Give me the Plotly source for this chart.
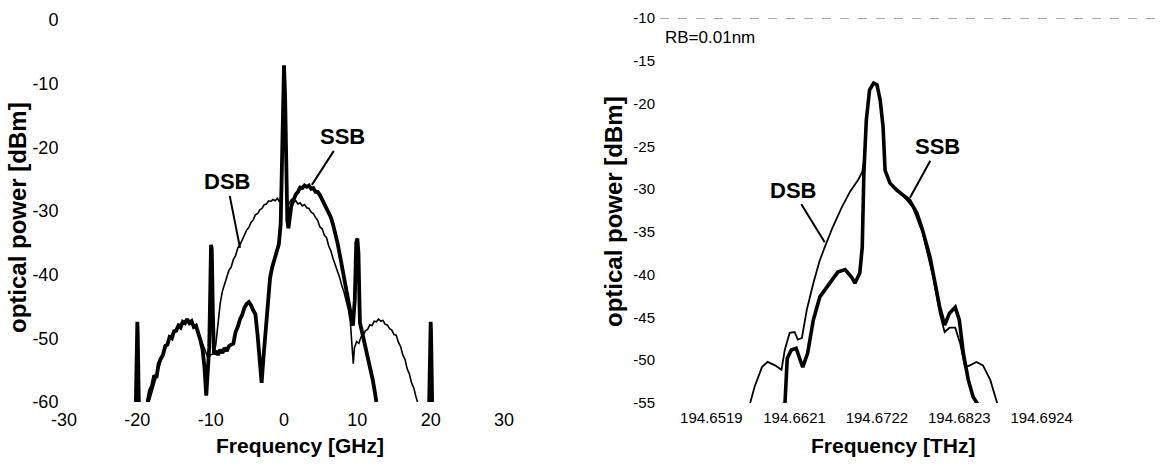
import plotly.graph_objects as go

# ---------------- Left panel: Frequency [GHz] vs optical power [dBm] ----------------
ssb_ghz = [-20.2, -20.05, -20.0, -19.95, -19.8, None,
           -18.6, -18.3, -18.0, -17.7, -17.4, -17.1, -16.8, -16.5, -16.2, -15.9, -15.6, -15.3,
           -15.0, -14.7, -14.4, -14.1, -13.8, -13.5, -13.2, -12.9, -12.6, -12.3, -12.0, -11.7,
           -11.4, -11.1, -10.85, -10.6, -10.4, -10.2, -10.05, -9.95, -9.85, -9.7, -9.55, -9.3,
           -9.0, -8.7, -8.4, -8.1, -7.8, -7.5, -7.2, -6.9, -6.6, -6.3, -6.0, -5.7, -5.4, -5.1,
           -4.8, -4.5, -4.2, -3.9, -3.6, -3.3, -3.05, -2.8, -2.5, -2.2, -1.9, -1.6, -1.3, -1.0,
           -0.7, -0.45, -0.3, -0.15, 0.0, 0.15, 0.3, 0.45, 0.6, 0.8, 1.0, 1.3, 1.6, 1.9, 2.2,
           2.5, 2.8, 3.1, 3.4, 3.7, 4.0, 4.3, 4.6, 4.9, 5.2, 5.5, 5.8, 6.1, 6.4, 6.7, 7.0, 7.3,
           7.6, 7.9, 8.2, 8.5, 8.8, 9.1, 9.4, 9.65, 9.85, 10.0, 10.15, 10.35, 10.6, 10.9, 11.2,
           11.5, 11.8, 12.1, 12.4, 12.6, None,
           19.8, 19.95, 20.0, 20.05, 20.2]
ssb_dbm = [-60, -49, -47.4, -49, -60, None,
           -60.0, -58.2, -57.5, -55.8, -56.2, -54.0, -53.2, -52.6, -51.2, -51.0, -49.8, -50.0,
           -48.9, -48.8, -48.0, -48.3, -47.4, -47.6, -47.0, -47.6, -47.3, -48.2, -48.0, -49.1,
           -50.3, -51.8, -54.5, -59.0, -54.0, -51.5, -42.0, -35.3, -36.0, -46.0, -52.5, -52.0,
           -52.6, -51.8, -52.3, -51.5, -52.0, -51.2, -51.0, -50.8, -49.0, -48.2, -47.0, -46.3,
           -45.2, -44.6, -44.3, -44.8, -45.6, -46.2, -49.5, -53.5, -57.0, -53.0, -49.0, -44.5,
           -40.5, -38.8, -37.5, -36.6, -35.2, -32.0, -24.0, -12.0, -7.1, -12.0, -24.0, -31.5,
           -32.7, -30.5, -29.2, -28.3, -27.4, -27.0, -26.3, -26.4, -26.0, -26.2, -26.0, -26.5,
           -26.4, -27.0, -27.0, -27.5, -28.2, -28.8, -29.5, -30.0, -31.0, -32.2, -33.5, -35.0,
           -36.8, -38.7, -40.5, -42.8, -45.0, -46.5, -48.0, -44.0, -35.0, -34.3, -36.5, -47.5,
           -48.8, -50.0, -51.6, -53.2, -54.8, -56.5, -58.5, -60.0, None,
           -60, -49, -47.4, -49, -60]

dsb_ghz = [-18.4, -18.0, -17.6, -17.2, -16.8, -16.4, -16.0, -15.6, -15.2, -14.8, -14.4, -14.0,
           -13.6, -13.2, -12.8, -12.4, -12.0, -11.6, -11.2, -10.8, -10.4, -10.0, -9.6, -9.3,
           -9.0, -8.7, -8.4, -8.1, -7.8, -7.5, -7.2, -6.9, -6.6, -6.3, -6.0, -5.7, -5.4, -5.1,
           -4.8, -4.5, -4.2, -3.9, -3.6, -3.3, -3.0, -2.7, -2.4, -2.1, -1.8, -1.5, -1.2, -0.9,
           -0.6, -0.4, -0.3, -0.15, 0.0, 0.15, 0.3, 0.45, 0.7, 1.0, 1.3, 1.6, 1.9, 2.2, 2.5,
           2.8, 3.1, 3.4, 3.7, 4.0, 4.3, 4.6, 4.9, 5.2, 5.5, 5.8, 6.1, 6.4, 6.7, 7.0, 7.3, 7.6,
           7.9, 8.2, 8.5, 8.8, 9.05, 9.3, 9.45, 9.6, 9.9, 10.2, 10.5, 10.8, 11.1, 11.4, 11.7,
           12.0, 12.3, 12.6, 12.9, 13.2, 13.5, 13.8, 14.1, 14.4, 14.7, 15.0, 15.3, 15.6, 15.9,
           16.2, 16.5, 16.8, 17.1, 17.4, 17.7, 18.0, 18.2]
dsb_dbm = [-60.0, -58.3, -56.8, -55.0, -53.6, -52.2, -51.0, -50.0, -49.2, -48.6, -48.0, -47.6,
           -47.3, -47.2, -47.4, -47.8, -48.4, -49.3, -50.5, -52.0, -53.0, -52.6, -52.4, -51.0,
           -48.0, -44.5, -42.6, -41.5, -40.6, -39.3, -38.8, -37.6, -37.0, -35.8, -35.3, -34.4,
           -33.8, -33.0, -32.6, -31.8, -31.4, -30.6, -30.4, -29.8, -29.6, -29.0, -28.9, -28.4,
           -28.5, -28.2, -28.4, -28.0, -28.6, -27.5, -24.0, -12.0, -7.5, -12.0, -24.0, -29.5,
           -28.8, -28.2, -28.6, -28.4, -28.9, -28.7, -29.2, -29.0, -29.5, -29.6, -30.2, -30.4,
           -31.0, -31.5, -32.5, -32.8, -33.8, -34.2, -35.5, -36.3, -37.5, -38.4, -39.6, -40.5,
           -41.8, -42.8, -44.2, -45.6, -47.5, -51.0, -54.0, -51.5, -50.5, -50.8, -49.8, -49.6,
           -48.8, -48.6, -47.9, -48.0, -47.3, -47.4, -47.0, -47.3, -47.2, -47.8, -47.9, -48.5,
           -48.7, -49.4, -49.5, -50.6, -51.3, -52.6, -53.3, -54.8, -55.6, -57.0, -57.8, -59.2,
           -60.0]

left_xticks = [-30, -20, -10, 0, 10, 20, 30]
left_xtick_text = ["-30", "-20", "-10", "0", "10", "20", "30"]
left_yticks = [0, -10, -20, -30, -40, -50, -60]
left_ytick_text = ["0", "-10", "-20", "-30", "-40", "-50", "-60"]

# ---------------- Right panel: Frequency [THz] vs optical power [dBm] ----------------
center_thz = 194.6722
ssb2_offset_ghz = [-11.3, -11.15, -11.0, -10.5, -9.9, -9.4, -9.1, -8.5, -7.8, -7.0, -5.8, -4.8,
                   -3.9, -3.1, -2.7, -2.1, -1.8, -1.6, -1.3, -0.9, -0.4, 0.0, 0.4, 0.75, 1.0,
                   1.6, 2.4, 3.2, 4.0, 4.9, 5.6, 6.5, 7.1, 7.7, 8.3, 8.9, 9.6, 10.1, 10.6, 11.2,
                   11.8, 12.4]
ssb2_dbm = [-55.5, -52.0, -49.8, -48.8, -48.6, -50.0, -50.8, -49.2, -45.3, -42.6, -41.0, -39.7,
            -39.4, -40.3, -41.0, -39.8, -36.8, -28.1, -21.9, -18.4, -17.6, -17.8, -19.6, -22.7,
            -27.8, -29.3, -30.1, -30.7, -31.3, -32.8, -34.8, -37.9, -40.6, -43.8, -45.9, -44.5,
            -43.8, -45.3, -49.2, -52.3, -54.3, -55.2]

dsb2_offset_ghz = [-15.6, -15.0, -14.1, -13.4, -12.5, -11.7, -11.3, -10.7, -10.1, -9.7, -9.2,
                   -8.6, -7.8, -7.0, -6.2, -5.4, -4.3, -3.3, -2.3, -1.8, -1.5, -1.3, -0.9, -0.4,
                   0.0, 0.4, 0.75, 1.0, 1.6, 2.8, 4.4, 5.6, 6.9, 7.7, 8.3, 8.9, 9.6, 10.2, 10.8,
                   11.4, 12.2, 13.0, 13.9, 14.8]
dsb2_dbm = [-55.2, -53.1, -50.8, -50.2, -50.6, -51.1, -48.8, -46.8, -46.7, -47.6, -47.4, -44.1,
            -41.0, -38.3, -36.3, -34.4, -32.1, -30.3, -28.9, -28.0, -26.2, -21.9, -18.4, -17.6,
            -17.8, -19.6, -22.7, -27.8, -29.3, -30.3, -32.1, -35.1, -40.3, -44.5, -46.7, -46.2,
            -46.2, -48.0, -50.8, -50.6, -50.2, -50.6, -52.3, -55.2]

right_xticks = [194.6519, 194.6621, 194.6722, 194.6823, 194.6924]
right_xtick_text = ["194.6519", "194.6621", "194.6722", "194.6823", "194.6924"]
right_yticks = [-10, -15, -20, -25, -30, -35, -40, -45, -50, -55]
right_ytick_text = ["-10", "-15", "-20", "-25", "-30", "-35", "-40", "-45", "-50", "-55"]

ssb2_thz = [center_thz + g / 1000.0 for g in ssb2_offset_ghz]
dsb2_thz = [center_thz + g / 1000.0 for g in dsb2_offset_ghz]

FONT = "Liberation Sans, Arial, sans-serif"
W, H = 1164, 467

fig = go.Figure()
fig.add_trace(go.Scatter(x=dsb_ghz, y=dsb_dbm, mode="lines", name="DSB",
                         line=dict(color="black", width=1.6), xaxis="x", yaxis="y"))
fig.add_trace(go.Scatter(x=ssb_ghz, y=ssb_dbm, mode="lines", name="SSB",
                         line=dict(color="black", width=3.8), xaxis="x", yaxis="y"))
fig.add_trace(go.Scatter(x=dsb2_thz, y=dsb2_dbm, mode="lines", name="DSB",
                         line=dict(color="black", width=1.8), xaxis="x2", yaxis="y2"))
fig.add_trace(go.Scatter(x=ssb2_thz, y=ssb2_dbm, mode="lines", name="SSB",
                         line=dict(color="black", width=3.6), xaxis="x2", yaxis="y2"))

common = dict(showgrid=False, zeroline=False, showline=False, ticks="outside", ticklen=1,
              tickcolor="rgba(0,0,0,0)", color="black", automargin=False)

fig.update_layout(
    width=W, height=H, showlegend=False,
    paper_bgcolor="white", plot_bgcolor="white",
    margin=dict(l=0, r=0, t=0, b=0, pad=0, autoexpand=False),
    font=dict(family=FONT, color="black"),
    xaxis=dict(domain=[64 / W, 504 / W], range=[-30, 30], anchor="y",
               tickvals=left_xticks, ticktext=left_xtick_text,
               tickfont=dict(size=18), **common),
    yaxis=dict(domain=[1 - 402 / H, 1 - 20 / H], range=[-60, 0], anchor="x",
               tickvals=left_yticks, ticktext=left_ytick_text,
               tickfont=dict(size=18), **common),
    xaxis2=dict(domain=[660 / W, 1.0], range=[center_thz - 0.0266, center_thz + 0.0352],
                anchor="y2", tickvals=right_xticks, ticktext=right_xtick_text,
                tickfont=dict(size=15), **common),
    yaxis2=dict(domain=[1 - 403 / H, 1 - 18 / H], range=[-55, -10], anchor="x2",
                tickvals=right_yticks, ticktext=right_ytick_text,
                tickfont=dict(size=15), **common),
)

fig.add_shape(type="line", xref="x2 domain", yref="y2", x0=0, x1=1, y0=-10, y1=-10,
              line=dict(color="#555555", width=1, dash="dash"))

bold = dict(family=FONT, size=22, color="black", weight="bold")
annots = [
    dict(x=-6.0, y=-35.8, xref="x", yref="y", text="DSB", ax=-13, ay=-66),
    dict(x=3.8, y=-25.9, xref="x", yref="y", text="SSB", ax=31, ay=-48),
    dict(x=center_thz - 0.0064, y=-36.2, xref="x2", yref="y2", text="DSB", ax=-32, ay=-52),
    dict(x=center_thz + 0.00405, y=-31.0, xref="x2", yref="y2", text="SSB", ax=28, ay=-51),
]
for a in annots:
    fig.add_annotation(showarrow=True, arrowhead=0, arrowwidth=2, arrowcolor="black",
                       font=bold, **a)

ytitle_font = dict(family=FONT, size=24, color="black", weight="bold")
xtitle_font = dict(family=FONT, size=21, color="black", weight="bold")
centered = dict(xref="paper", yref="paper", xanchor="center", yanchor="middle", showarrow=False)
fig.add_annotation(x=17 / W, y=1 - 218 / H, text="optical power [dBm]", textangle=-90,
                   font=ytitle_font, **centered)
fig.add_annotation(x=613 / W, y=1 - 212 / H, text="optical power [dBm]", textangle=-90,
                   font=ytitle_font, **centered)
fig.add_annotation(x=300 / W, y=1 - 445 / H, text="Frequency [GHz]", font=xtitle_font, **centered)
fig.add_annotation(x=893 / W, y=1 - 445 / H, text="Frequency [THz]", font=xtitle_font, **centered)
fig.add_annotation(x=663 / W, y=1 - 37 / H, xref="paper", yref="paper", text="RB=0.01nm",
                   xanchor="left", yanchor="middle", showarrow=False,
                   font=dict(family=FONT, size=17, color="black"))

fig.write_html("out.html", config={"displayModeBar": False},
               post_script="document.body.style.margin='0';document.body.style.overflow='hidden';")
